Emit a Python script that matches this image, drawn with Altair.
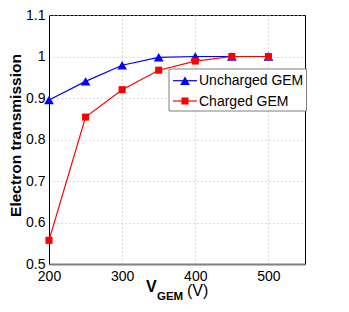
import altair as alt
import pandas as pd

# ---- data ----
v_gem = [200, 250, 300, 350, 400, 450, 500]
uncharged = [0.895, 0.940, 0.979, 0.998, 1.000, 1.000, 1.000]
charged = [0.557, 0.854, 0.920, 0.967, 0.989, 1.000, 1.000]
series_names = ["Uncharged GEM", "Charged GEM"]
series_colors = ["#0000ff", "#ff0000"]
series_shapes = ["triangle-up", "square"]
series_sizes = [95, 50]
x_ticks = [200, 300, 400, 500]
y_ticks = [0.5, 0.6, 0.7, 0.8, 0.9, 1.0, 1.1]

FONT = "Liberation Sans"
W, H = 256, 249

x_scale = alt.Scale(domain=[200, 550], nice=False, zero=False)
y_scale = alt.Scale(domain=[0.5, 1.1], nice=False, zero=False)

x_axis = alt.Axis(values=x_ticks, title=None, labelFontSize=14, labelColor="black",
                  labelFont=FONT, labelPadding=5, ticks=False, domainColor="#808080",
                  domainWidth=2, grid=True, gridColor="#b8b8b8", gridDash=[1, 3],
                  gridWidth=1, labelFlush=False)
y_axis = alt.Axis(values=y_ticks, title=None, labelFontSize=14, labelColor="black",
                  labelFont=FONT, labelPadding=4, ticks=False, domainColor="black",
                  domainWidth=1, grid=True, gridColor="#b8b8b8", gridDash=[1, 3],
                  gridWidth=1, labelExpr="format(datum.value, '.1~f')", labelFlush=False)

layers = []
for i, (name, vals) in enumerate(zip(series_names, [uncharged, charged])):
    df = pd.DataFrame({"V": v_gem, "T": vals, "series": name})
    base = alt.Chart(df).encode(
        x=alt.X("V:Q", scale=x_scale, axis=x_axis),
        y=alt.Y("T:Q", scale=y_scale, axis=y_axis),
    )
    layers.append(base.mark_line(color=series_colors[i], strokeWidth=1.2))
    layers.append(base.mark_point(shape=series_shapes[i], filled=True, opacity=1,
                                  color=series_colors[i], size=series_sizes[i]))

# ---- legend (drawn manually) ----
one = pd.DataFrame({"a": [0]})
layers.append(alt.Chart(one).mark_rect(fill="white", stroke="#7f7f7f", strokeWidth=1).encode(
    x=alt.value(120), x2=alt.value(257.5), y=alt.value(54), y2=alt.value(96)))
row_y = [65.7, 86]
for i, name in enumerate(series_names):
    d = pd.DataFrame({"label": [name]})
    layers.append(alt.Chart(d).mark_rule(color=series_colors[i], strokeWidth=1.2).encode(
        x=alt.value(124), x2=alt.value(148), y=alt.value(row_y[i])))
    layers.append(alt.Chart(d).mark_point(shape=series_shapes[i], filled=True, opacity=1,
                                          color=series_colors[i], size=series_sizes[i]).encode(
        x=alt.value(136), y=alt.value(row_y[i])))
    layers.append(alt.Chart(d).mark_text(align="left", baseline="middle", fontSize=14,
                                         font=FONT, color="black").encode(
        x=alt.value(150), y=alt.value(row_y[i] + 0.5), text="label:N"))

# ---- axis titles ----
layers.append(alt.Chart(one).mark_text(angle=270, align="center", baseline="middle",
                                       fontSize=15.5, fontWeight="bold", font=FONT,
                                       color="black").encode(
    x=alt.value(-33), y=alt.value(120.5), text=alt.value("Electron transmission")))
layers.append(alt.Chart(one).mark_text(align="left", baseline="alphabetic", fontSize=16,
                                       fontWeight="bold", font=FONT, color="black").encode(
    x=alt.value(97), y=alt.value(276.7), text=alt.value("V")))
layers.append(alt.Chart(one).mark_text(align="left", baseline="alphabetic", fontSize=11.5,
                                       fontWeight="bold", font=FONT, color="black").encode(
    x=alt.value(108), y=alt.value(285), text=alt.value("GEM")))
layers.append(alt.Chart(one).mark_text(align="left", baseline="alphabetic", fontSize=16,
                                       font=FONT, color="black").encode(
    x=alt.value(138), y=alt.value(281), text=alt.value("(V)")))

chart = alt.layer(*layers).properties(
    width=W, height=H,
    autosize=alt.AutoSizeParams(type="none"),
    padding={"left": 41, "top": 7, "right": 20, "bottom": 40},
    background="white",
).configure_view(stroke="black", strokeWidth=1)

chart.save("out.html", embed_options={"renderer": "svg", "actions": False})
